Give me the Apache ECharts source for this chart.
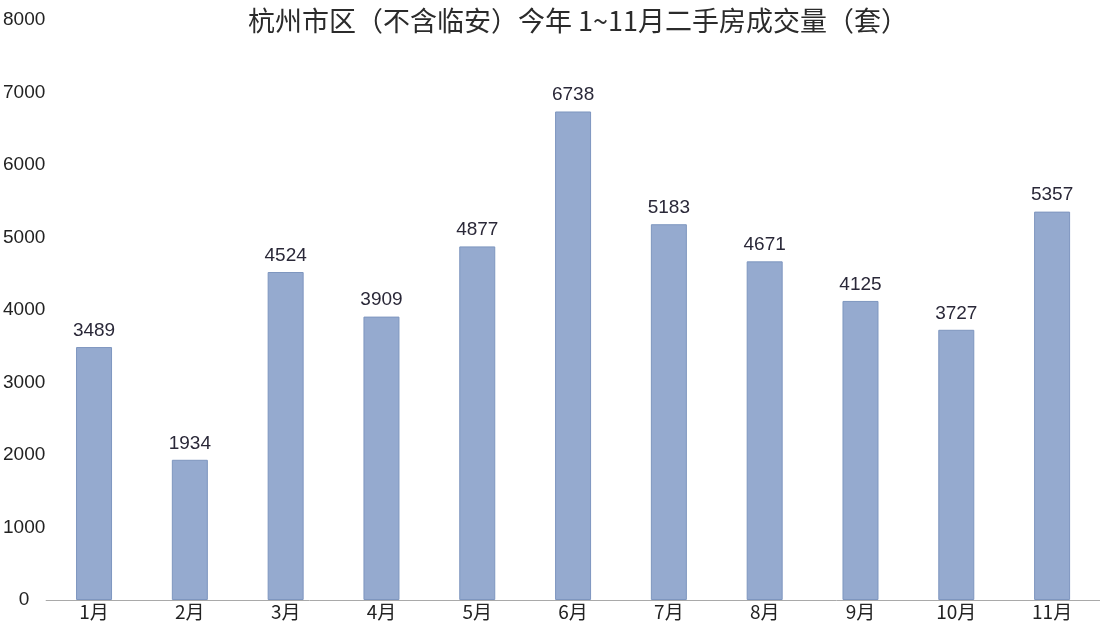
<!DOCTYPE html>
<html><head><meta charset="utf-8">
<script src="https://cdn.jsdelivr.net/npm/echarts@6/dist/echarts.min.js"></script>
<style>html,body{margin:0;padding:0;background:#fff}#c{width:1100px;height:626px}</style>
</head><body><div id="c"></div>
<script>
const titleText = '杭州市区（不含临安）今年 1~11月二手房成交量（套）';
const categories = ['1月','2月','3月','4月','5月','6月','7月','8月','9月','10月','11月'];
const values = [3489,1934,4524,3909,4877,6738,5183,4671,4125,3727,5357];
const yTicks = {min:0, max:8000, interval:1000};

const chart = echarts.init(document.getElementById('c'));
const font = '"Noto Sans CJK SC", "Noto Sans", sans-serif';
const numFont = '"Liberation Sans", Arial, sans-serif';
chart.setOption({
  animation:false,
  backgroundColor:'#fff',
  title:{text:titleText,left:573,textAlign:'center',top:2,
    textStyle:{fontFamily:font,fontSize:27,fontWeight:'normal',color:'#2b2b2b'}},
  grid:{left:45,right:0,top:20,bottom:26,containLabel:false},
  xAxis:{type:'category',data:categories,
    axisLine:{show:true,lineStyle:{color:'#a9a9a9',width:1}},
    axisTick:{show:false},
    axisLabel:{fontFamily:font,fontSize:19,color:'#222',margin:2}},
  yAxis:{type:'value',min:yTicks.min,max:yTicks.max,interval:yTicks.interval,
    splitLine:{show:false},axisLine:{show:false},axisTick:{show:false},
    axisLabel:{fontFamily:numFont,fontSize:19,color:'#222',align:'center',margin:22,
      formatter:v=>String(v)}},
  series:[{type:'bar',data:values,barWidth:36,
    itemStyle:{color:'#95aacf',borderColor:'#7e96bf',borderWidth:1},
    label:{show:true,position:'top',distance:7,fontFamily:numFont,fontSize:19,color:'#2a2838'}}]
});
</script></body></html>
